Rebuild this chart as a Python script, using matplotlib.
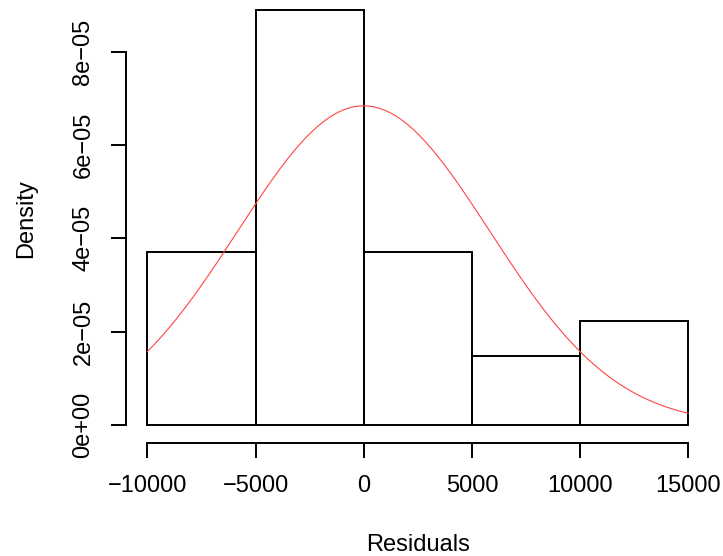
import numpy as np
import matplotlib
matplotlib.use("Agg")
import matplotlib.pyplot as plt

# histogram of residuals (bins of width 5000), counts
breaks = [-10000, -5000, 0, 5000, 10000, 15000]
counts = [5, 12, 5, 2, 3]
n_obs = sum(counts)

# fitted normal curve drawn over the histogram
resid_mean = 0.0
resid_sd = 5833.0

xticks = [-10000, -5000, 0, 5000, 10000, 15000]
xtick_labels = ["\u221210000", "\u22125000", "0", "5000", "10000", "15000"]
yticks = [0, 2e-05, 4e-05, 6e-05, 8e-05]
ytick_labels = ["0e+00", "2e\u221205", "4e\u221205", "6e\u221205", "8e\u221205"]

plt.rcParams['font.family'] = ['Liberation Sans', 'DejaVu Sans']

fig = plt.figure(figsize=(7.23, 5.56), dpi=100)
ax = fig.add_axes([125.7 / 723, (556 - 443.3) / 556, (709.9 - 125.7) / 723, 443.3 / 556])

edges = np.array(breaks, dtype=float)
widths = np.diff(edges)
dens = np.array(counts) / (n_obs * widths)
ax.bar(edges[:-1], dens, width=widths, align='edge', fill=False,
       edgecolor='black', linewidth=1.4)

xs = np.linspace(breaks[0], breaks[-1], 300)
ys = np.exp(-0.5 * ((xs - resid_mean) / resid_sd) ** 2) / (resid_sd * np.sqrt(2 * np.pi))
ax.plot(xs, ys, color='#ff4545', linewidth=0.8)

ax.set_xlim(-11000, 16000)
ax.set_ylim(-3.92e-06, 9.107e-05)

for s in ['top', 'right']:
    ax.spines[s].set_visible(False)
ax.spines['left'].set_bounds(yticks[0], yticks[-1])
ax.spines['bottom'].set_bounds(xticks[0], xticks[-1])
ax.spines['left'].set_linewidth(1.4)
ax.spines['bottom'].set_linewidth(1.4)

ax.set_xticks(xticks)
ax.set_xticklabels(xtick_labels)
ax.set_yticks(yticks)
ax.set_yticklabels(ytick_labels, rotation=90, va='center')
ax.tick_params(axis='both', length=10.5, width=1.4, labelsize=17)
ax.tick_params(axis='x', pad=12.5)
ax.tick_params(axis='y', pad=12)

ax.set_xlabel("Residuals", fontsize=17)
ax.set_ylabel("Density", fontsize=17)
ax.xaxis.set_label_coords(0.5, -0.205)
ax.yaxis.set_label_coords(-0.151, 0.508)

fig.savefig("out.png", dpi=100)
